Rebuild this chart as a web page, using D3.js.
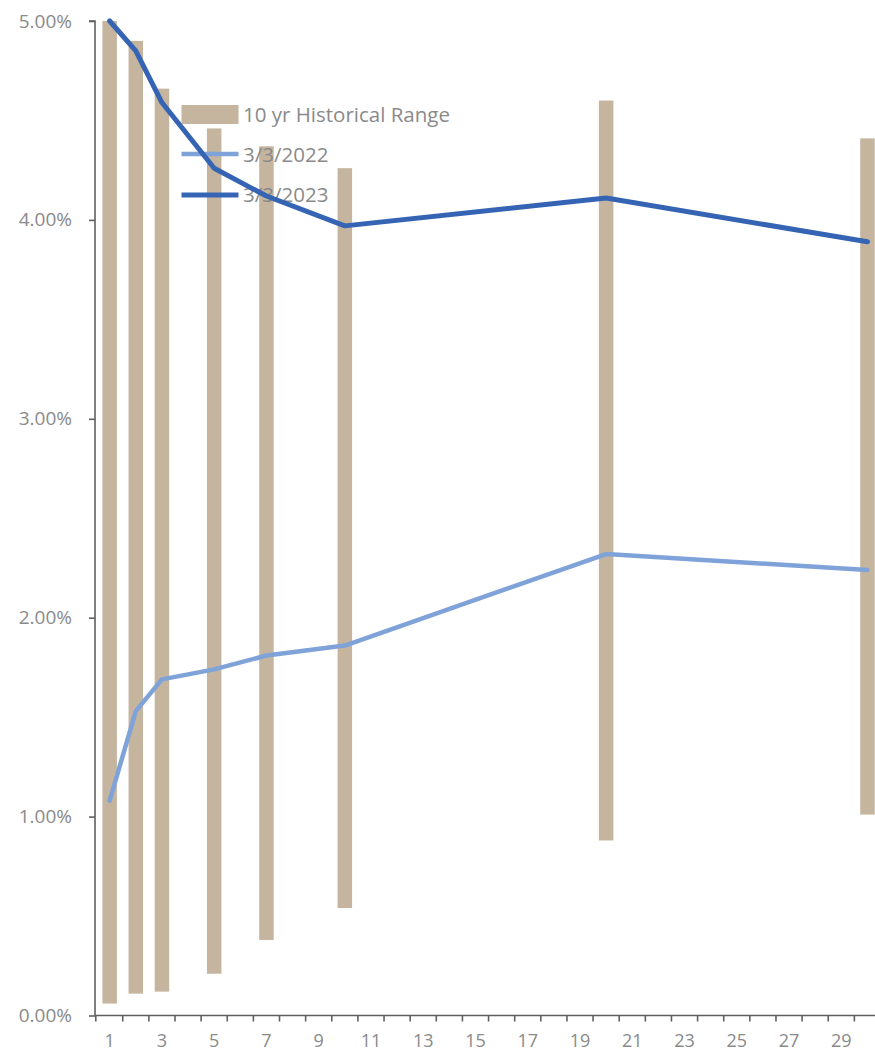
<!DOCTYPE html>
<html>
<head>
<meta charset="utf-8">
<script src="https://cdn.jsdelivr.net/npm/d3@7"></script>
<style>
  html, body { margin: 0; padding: 0; background: #fff; overflow: hidden; }
  svg { display: block; }
  text { font-family: "Open Sans", "Noto Sans", sans-serif; }
</style>
</head>
<body>
<svg id="chart" width="875" height="1054"></svg>
<script>
// Treasury maturities (years) and category slots on the x axis
const maturities = [1, 2, 3, 5, 7, 10, 20, 30];
const categories = d3.range(1, 31);
const xTickLabels = [1, 3, 5, 7, 9, 11, 13, 15, 17, 19, 21, 23, 25, 27, 29];
const yTickValues = [0, 1, 2, 3, 4, 5];

// 10-year historical range of yields (%)
const rangeLow  = [0.06, 0.11, 0.12, 0.21, 0.38, 0.54, 0.88, 1.01];
const rangeHigh = [5.00, 4.90, 4.66, 4.46, 4.37, 4.26, 4.60, 4.41];

// Yield curves (%)
const yields2022 = [1.08, 1.53, 1.69, 1.74, 1.81, 1.86, 2.32, 2.24];
const yields2023 = [5.00, 4.85, 4.59, 4.26, 4.12, 3.97, 4.11, 3.89];

const legendLabels = ["10 yr Historical Range", "3/3/2022", "3/3/2023"];

const colors = { range: "#C5B59E", y2022: "#7FA2D8", y2023: "#3664B4", axis: "#606060", text: "#8A8A8A" };

const svg = d3.select("#chart");

const x = d3.scaleBand().domain(categories).range([96.6, 880.5]).padding(0);
const y = d3.scaleLinear().domain([0, 5]).range([1015.5, 21]);
const barW = 14.5;
const cx = d => x(d) + x.bandwidth() / 2;

// Floating range bars
svg.append("g").selectAll("rect")
  .data(maturities)
  .join("rect")
  .attr("x", d => cx(d) - barW / 2)
  .attr("width", barW)
  .attr("y", (d, i) => y(rangeHigh[i]))
  .attr("height", (d, i) => y(rangeLow[i]) - y(rangeHigh[i]))
  .attr("fill", colors.range);

// Legend
const legend = svg.append("g");
const lx0 = 181.5, lx1 = 238.5, ltx = 243;
legend.append("rect")
  .attr("x", lx0).attr("y", 105).attr("width", lx1 - lx0).attr("height", 19)
  .attr("fill", colors.range);
const legendRows = [115, 155, 195];
legend.selectAll("text")
  .data(legendLabels)
  .join("text")
  .attr("x", ltx)
  .attr("y", (d, i) => legendRows[i])
  .attr("dy", "0.35em")
  .attr("font-size", 20.5)
  .attr("fill", colors.text)
  .text(d => d);

// Yield curve lines
const line = d3.line().x(d => cx(d[0])).y(d => y(d[1]));
svg.append("path")
  .datum(maturities.map((m, i) => [m, yields2022[i]]))
  .attr("d", line)
  .attr("fill", "none")
  .attr("stroke", colors.y2022)
  .attr("stroke-width", 4.5)
  .attr("stroke-linejoin", "round")
  .attr("stroke-linecap", "round");
svg.append("path")
  .datum(maturities.map((m, i) => [m, yields2023[i]]))
  .attr("d", line)
  .attr("fill", "none")
  .attr("stroke", colors.y2023)
  .attr("stroke-width", 5)
  .attr("stroke-linejoin", "round")
  .attr("stroke-linecap", "round");

// Legend line swatches
legend.append("line")
  .attr("x1", lx0).attr("x2", lx1).attr("y1", 154).attr("y2", 154)
  .attr("stroke", colors.y2022).attr("stroke-width", 4.5);
legend.append("line")
  .attr("x1", lx0).attr("x2", lx1).attr("y1", 195).attr("y2", 195)
  .attr("stroke", colors.y2023).attr("stroke-width", 5);

// Y axis
const yAxis = svg.append("g")
  .attr("transform", "translate(95,0)")
  .call(d3.axisLeft(y).tickValues(yTickValues).tickSize(6).tickPadding(17)
    .tickFormat(d => d3.format(".2f")(d) + "%"));
yAxis.select(".domain").attr("stroke", colors.axis).attr("stroke-width", 1.6)
  .attr("d", `M-6,${y(5)}H0V${y(0)}`);
yAxis.selectAll(".tick line").attr("stroke", colors.axis).attr("stroke-width", 1.6);
yAxis.selectAll(".tick text")
  .attr("font-family", "Open Sans").attr("font-size", 19).attr("fill", colors.text);

// X axis: ticks at category boundaries, labels on odd categories
const xg = svg.append("g").attr("transform", `translate(0,${y(0)})`);
xg.append("line")
  .attr("x1", 95).attr("x2", 880).attr("y1", 0).attr("y2", 0)
  .attr("stroke", colors.axis).attr("stroke-width", 1.6);
xg.selectAll("line.tk")
  .data(categories)
  .join("line")
  .attr("class", "tk")
  .attr("x1", d => x(d) + x.bandwidth()).attr("x2", d => x(d) + x.bandwidth())
  .attr("y1", 0).attr("y2", 6)
  .attr("stroke", colors.axis).attr("stroke-width", 1.6);
xg.append("line")
  .attr("x1", 95.8).attr("x2", 95.8).attr("y1", 0).attr("y2", 6)
  .attr("stroke", colors.axis).attr("stroke-width", 1.6);
xg.selectAll("text")
  .data(xTickLabels)
  .join("text")
  .attr("x", d => cx(d))
  .attr("y", 25)
  .attr("dy", "0.35em")
  .attr("text-anchor", "middle")
  .attr("font-size", 18)
  .attr("fill", colors.text)
  .text(d => d);
</script>
</body>
</html>
